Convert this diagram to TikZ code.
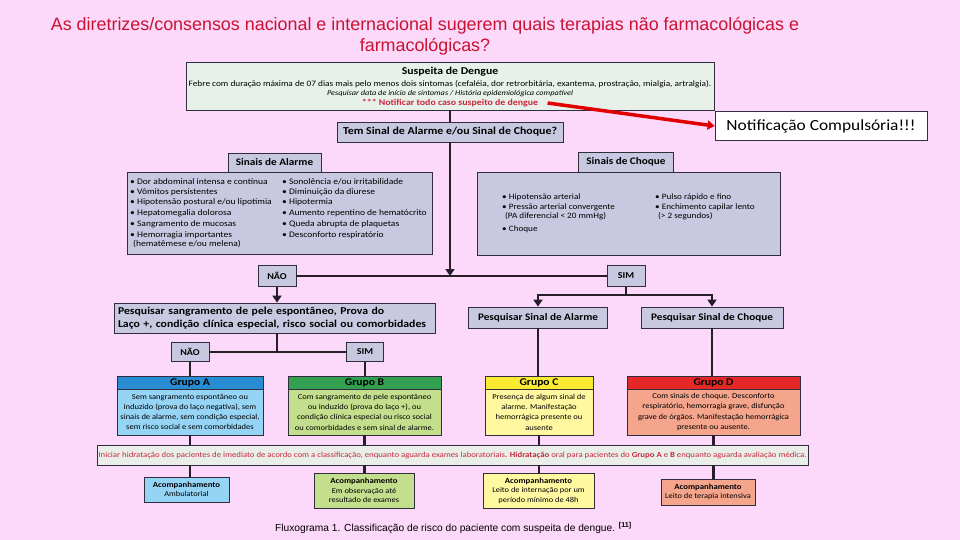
\documentclass[tikz,border=0pt]{standalone}
\usepackage{fontspec}
\setmainfont[FakeStretch=1.12]{Carlito}
\newfontfamily\arialf{Liberation Sans}
\usetikzlibrary{arrows.meta}
\newcommand\fsz[2]{\fontsize{#1}{#2}\selectfont}
\definecolor{bg}{RGB}{252,216,250}
\definecolor{edge}{RGB}{50,45,60}
\definecolor{lk}{RGB}{40,30,40}
\definecolor{lav}{RGB}{200,200,224}
\definecolor{topf}{RGB}{232,240,234}
\definecolor{bann}{RGB}{233,238,233}
\definecolor{notr}{RGB}{200,40,60}
\definecolor{titr}{RGB}{200,20,50}
\definecolor{arrred}{RGB}{225,0,0}
\definecolor{gAh}{RGB}{40,140,210}
\definecolor{gAb}{RGB}{150,212,245}
\definecolor{gBh}{RGB}{50,160,80}
\definecolor{gBb}{RGB}{195,222,140}
\definecolor{gCh}{RGB}{250,235,50}
\definecolor{gCb}{RGB}{255,248,160}
\definecolor{gDh}{RGB}{228,40,40}
\definecolor{gDb}{RGB}{244,165,140}
\begin{document}
\begin{tikzpicture}[x=1pt,y=-1pt,
  box/.style={draw=edge,line width=0.8pt,inner sep=0pt,align=center},
  hdr/.style={box,fill=lav,font=\fsz{10}{11}\bfseries},
  itm/.style={anchor=west,inner sep=0pt,font=\fsz{8.5}{10}},
  itms/.style={anchor=west,inner sep=0pt,font=\fsz{8.2}{10}},
  gbody/.style={box,font=\fsz{7.6}{10.3}},
  ghead/.style={box,font=\fsz{10.3}{11}\bfseries,minimum height=13pt},
  acbox/.style={box,font=\fsz{7.5}{9.5}},
  conn/.style={line width=2.6pt,draw=lk},
  arr/.style={conn,-{Triangle[width=9pt,length=7pt]}},
  redarr/.style={line width=3.5pt,draw=arrred,-{Triangle[width=9pt,length=7pt]}}]
\useasboundingbox[fill=bg] (0,0) rectangle (960,540);

% title
\node[font=\arialf\fsz{17.9}{21},text=titr,align=center] (title) at (425,36)
  {As diretrizes/consensos nacional e internacional sugerem quais terapias não farmacológicas e\\farmacológicas?};

% top box
\node[box,fill=topf,minimum width=528pt,minimum height=48pt] (top) at (450,86) {};
\node[font=\fsz{10.5}{11}\bfseries] (tsd) at (450,72) {Suspeita de Dengue};
\node[font=\fsz{8.3}{10}] (tfeb) at (450,84) {Febre com duração máxima de 07 dias mais pelo menos dois sintomas (cefaléia, dor retrorbitária, exantema, prostração, mialgia, artralgia).};
\node[font=\fsz{7.4}{10}\itshape] (tpes) at (450,94) {Pesquisar data de início de sintomas / História epidemiológica compatível};
\node[font=\fsz{8.8}{10}\bfseries,text=notr] (tnot) at (450,103) {*** Notificar todo caso suspeito de dengue};

% notification
\node[box,fill=white,minimum width=212pt,minimum height=29pt,font=\fsz{15.5}{18}] (notif) at (821,126) {Notificação Compulsória!!!};
\draw[redarr] ([xshift=6pt]tnot.east) -- (notif.west);

% question
\node[box,fill=lav,minimum width=226pt,minimum height=20pt,font=\fsz{10.6}{12}\bfseries] (q) at (450,132) {Tem Sinal de Alarme e/ou Sinal de Choque?};
\draw[conn] (top.south) -- (q.north);

% alarm signs
\node[box,fill=lav,minimum width=305pt,minimum height=82pt] (al) at (279.5,213) {};
\node[hdr,minimum width=93pt,minimum height=19pt] (hal) at (274.5,162.5) {Sinais de Alarme};
\node[itm] (a1) at (130,181.7) {• Dor abdominal intensa e contínua};
\node[itm] (a2) at (130,192.3) {• Vômitos persistentes};
\node[itm] (a3) at (130,202.7) {• Hipotensão postural e/ou lipotimia};
\node[itm] (a4) at (130,213.3) {• Hepatomegalia dolorosa};
\node[itm] (a5) at (130,224) {• Sangramento de mucosas};
\node[itm] (a6) at (130,235) {• Hemorragia importantes};
\node[itm] (a7) at (133,244.3) {(hematêmese e/ou melena)};
\node[itm] (b1) at (282,181.7) {• Sonolência e/ou irritabilidade};
\node[itm] (b2) at (282,192.3) {• Diminuição da diurese};
\node[itm] (b3) at (282,202.7) {• Hipotermia};
\node[itm] (b4) at (282,213.3) {• Aumento repentino de hematócrito};
\node[itm] (b5) at (282,224) {• Queda abrupta de plaquetas};
\node[itm] (b6) at (282,235) {• Desconforto respiratório};

% shock signs
\node[box,fill=lav,minimum width=303pt,minimum height=83pt] (ch) at (628.5,213.5) {};
\node[hdr,minimum width=95pt,minimum height=20pt] (hch) at (626,162) {Sinais de Choque};
\node[itms] (c1) at (502,197.7) {• Hipotensão arterial};
\node[itms] (c2) at (502,207.3) {• Pressão arterial convergente};
\node[itms] (c3) at (505,216) {(PA diferencial < 20 mmHg)};
\node[itms] (c4) at (502,229.3) {• Choque};
\node[itms] (d1) at (655,197.7) {• Pulso rápido e fino};
\node[itms] (d2) at (655,207.3) {• Enchimento capilar lento};
\node[itms] (d3) at (658,216) {(> 2 segundos)};

% NAO / SIM level 1
\node[hdr,font=\fsz{9}{10}\bfseries,minimum width=38pt,minimum height=21pt] (nao1) at (277,276) {NÃO};
\node[hdr,font=\fsz{9}{10}\bfseries,minimum width=38pt,minimum height=21pt] (sim1) at (626,276) {SIM};
\coordinate (j1) at (450,276);
\draw[conn] (nao1.east) -- (sim1.west);
\draw[arr] (q.south) -- (j1);

% pesquisar sangramento
\node[box,fill=lav,minimum width=321pt,minimum height=30pt,align=left,text width=313pt,inner xsep=4pt,font=\fsz{10.5}{12.5}\bfseries] (pes) at (274.5,318)
  {Pesquisar sangramento de pele espontâneo, Prova do\\Laço +, condição clínica especial, risco social ou comorbidades};
\draw[arr] (nao1.south) -- (nao1.south |- pes.north);

% pesquisar sinais
\node[hdr,minimum width=139pt,minimum height=21pt] (psa) at (538,317.5) {Pesquisar Sinal de Alarme};
\node[hdr,minimum width=142pt,minimum height=21pt] (psc) at (712,317.5) {Pesquisar Sinal de Choque};
\coordinate (j2) at (626,295);
\draw[conn] (sim1.south) -- (j2);
\draw[arr] (j2) -| (psa.north);
\draw[arr] (j2) -| (psc.north);

% NAO / SIM level 2
\node[hdr,font=\fsz{9}{10}\bfseries,minimum width=38pt,minimum height=19pt] (nao2) at (190,352) {NÃO};
\node[hdr,font=\fsz{9}{10}\bfseries,minimum width=37pt,minimum height=19pt] (sim2) at (365,352) {SIM};
\coordinate (j3) at (277,352);
\draw[conn] (nao2.east) -- (sim2.west);
\draw[conn] (j3 |- pes.south) -- (j3);

% groups
\node[gbody,fill=gAb,minimum width=146pt,minimum height=46pt] (gAb) at (190,412)
  {Sem sangramento espontâneo ou\\induzido (prova do laço negativa), sem\\sinais de alarme, sem condição especial,\\sem risco social e sem comorbidades};
\node[ghead,fill=gAh,minimum width=146pt] (gAh) at (190,382.5) {Grupo A};
\node[gbody,fill=gBb,minimum width=153pt,minimum height=46pt] (gBb) at (364.5,412)
  {Com sangramento de pele espontâneo\\ou induzido (prova do laço +), ou\\condição clínica especial ou risco social\\ou comorbidades e sem sinal de alarme.};
\node[ghead,fill=gBh,minimum width=153pt] (gBh) at (364.5,382.5) {Grupo B};
\node[gbody,fill=gCb,minimum width=108pt,minimum height=46pt] (gCb) at (539,412)
  {Presença de algum sinal de\\alarme. Manifestação\\hemorrágica presente ou\\ausente};
\node[ghead,fill=gCh,minimum width=108pt] (gCh) at (539,382.5) {Grupo C};
\node[gbody,fill=gDb,minimum width=173pt,minimum height=46pt] (gDb) at (713.5,412)
  {Com sinais de choque. Desconforto\\respiratório, hemorragia grave, disfunção\\grave de órgãos. Manifestação hemorrágica\\presente ou ausente.};
\node[ghead,fill=gDh,minimum width=173pt] (gDh) at (713.5,382.5) {Grupo D};

\draw[conn] (nao2.south) -- (gAh.north);
\draw[conn] (sim2.south) -- (sim2.south |- gBh.north);
\draw[conn] (psa.south) -- (psa.south |- gCh.north);
\draw[conn] (psc.south) -- (psc.south |- gDh.north);

% banner
\node[box,fill=bann,minimum width=711pt,minimum height=20pt,text=notr,font=\fsz{7.8}{10}] (ban) at (452.5,455)
  {Iniciar hidratação dos pacientes de imediato de acordo com a classificação, enquanto aguarda exames laboratoriais. \textbf{Hidratação} oral para pacientes do \textbf{Grupo A} e \textbf{B} enquanto aguarda avaliação médica.};
\draw[conn] (gAb.south) -- (gAb.south |- ban.north);
\draw[conn] (gBb.south) -- (gBb.south |- ban.north);
\draw[conn] (gCb.south) -- (gCb.south |- ban.north);
\draw[conn] (gDb.south) -- (gDb.south |- ban.north);

% follow-up boxes
\node[acbox,fill=gAb,minimum width=85pt,minimum height=25pt] (acA) at (186.5,489.5)
  {\textbf{\fsz{7.8}{9.5}Acompanhamento}\\Ambulatorial};
\node[acbox,fill=gBb,minimum width=100pt,minimum height=35pt] (acB) at (364,490.5)
  {\textbf{\fsz{7.8}{9.5}Acompanhamento}\\Em observação até\\resultado de exames};
\node[acbox,fill=gCb,minimum width=111pt,minimum height=35pt] (acC) at (538.5,490.5)
  {\textbf{\fsz{7.8}{9.5}Acompanhamento}\\Leito de internação por um\\período mínimo de 48h};
\node[acbox,fill=gDb,minimum width=94pt,minimum height=26pt] (acD) at (708,492)
  {\textbf{\fsz{7.8}{9.5}Acompanhamento}\\Leito de terapia intensiva};
\draw[conn] (gAb.south |- ban.south) -- (gAb.south |- acA.north);
\draw[conn] (gBb.south |- ban.south) -- (gBb.south |- acB.north);
\draw[conn] (gCb.south |- ban.south) -- (gCb.south |- acC.north);
\draw[conn] (gDb.south |- ban.south) -- (gDb.south |- acD.north);

% caption
\node[anchor=west,inner sep=0pt,font=\arialf\fsz{10.2}{11}] (cap) at (275,528)
  {Fluxograma 1. Classificação de risco do paciente com suspeita de dengue. \textsuperscript{\bfseries[11]}};
\end{tikzpicture}
\end{document}
